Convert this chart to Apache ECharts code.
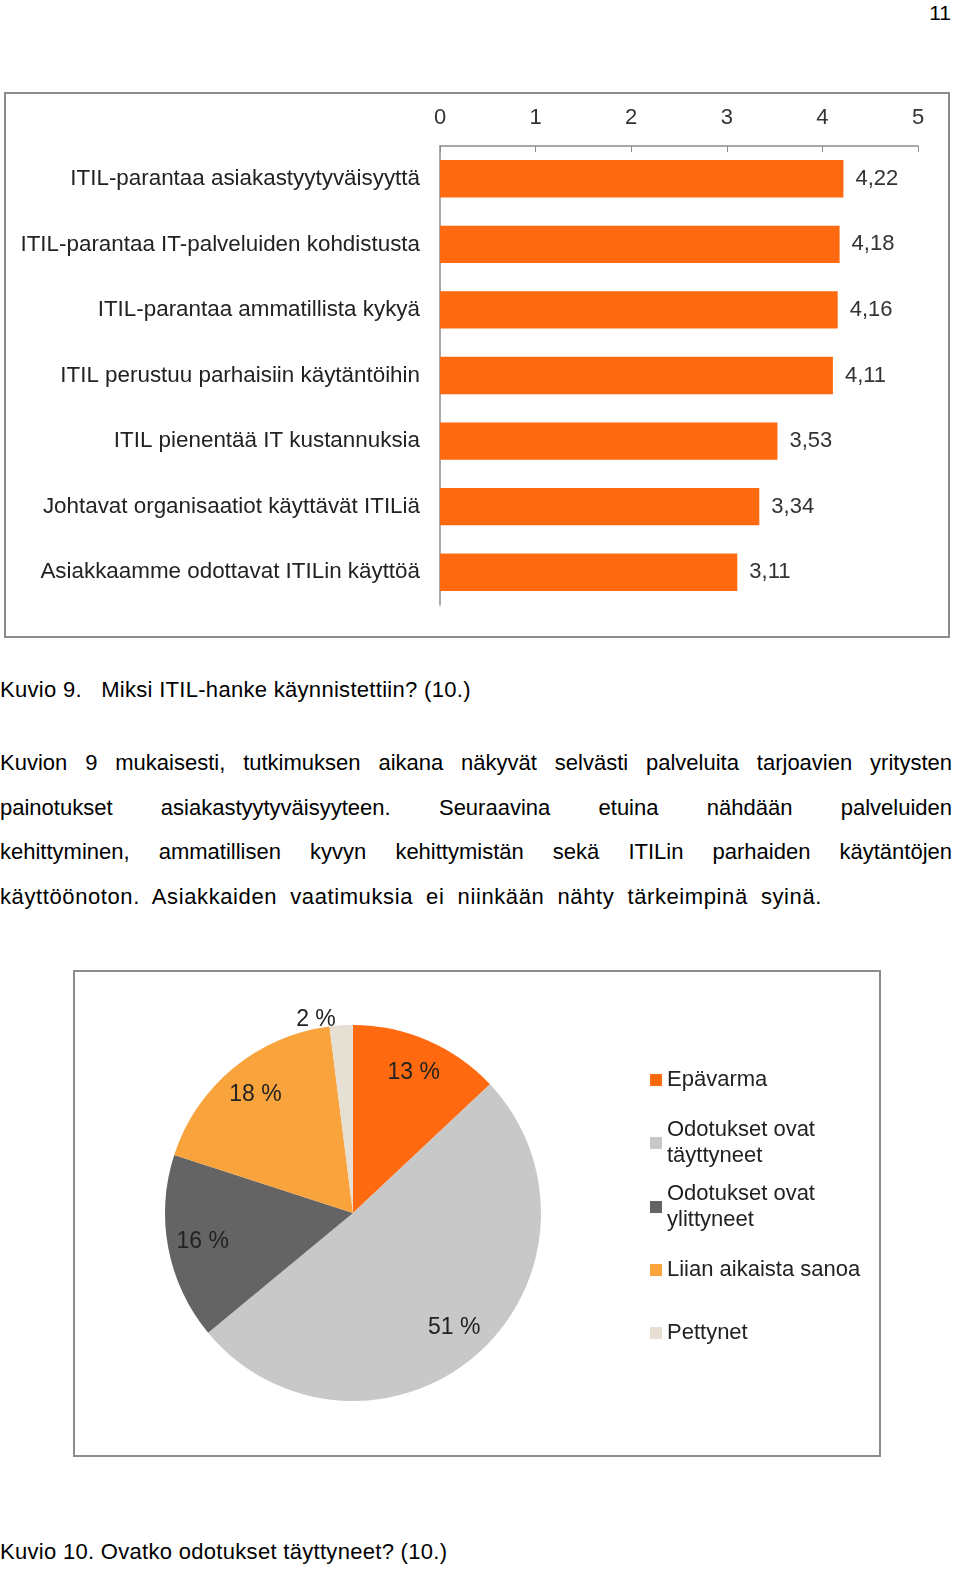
<!DOCTYPE html>
<html><head><meta charset="utf-8">
<script src="https://cdn.jsdelivr.net/npm/echarts@6/dist/echarts.min.js"></script>
<style>
html{margin:0;padding:0;width:960px;height:1581px;overflow:hidden;background:#fff;}
body{margin:0;padding:0;width:960px;height:1581px;position:relative;font-family:"Liberation Sans",Arial,sans-serif;color:#000;overflow:hidden;background:#fff;}
.box{position:absolute;box-sizing:border-box;border:2px solid #8c8c8c;background:#fff;}
.t{position:absolute;white-space:nowrap;line-height:26px;}
.para{position:absolute;left:0;width:952px;font-size:22px;overflow:hidden;}
.para div{height:44.7px;line-height:44.7px;text-align:justify;text-align-last:justify;white-space:nowrap;overflow:hidden;}
</style></head>
<body>
<div class="t" style="right:9px;top:0px;font-size:21px;">11</div>
<div id="c1" class="box" style="left:4px;top:92px;width:946px;height:546px;"></div>
<div class="t" style="left:0;top:677px;font-size:22px;letter-spacing:0.3px;">Kuvio 9.&nbsp;&nbsp; Miksi ITIL-hanke käynnistettiin? (10.)</div>
<div class="para" style="top:741px;">
<div>Kuvion 9 mukaisesti, tutkimuksen aikana näkyvät selvästi palveluita tarjoavien yritysten</div>
<div>painotukset asiakastyytyväisyyteen. Seuraavina etuina nähdään palveluiden</div>
<div>kehittyminen, ammatillisen kyvyn kehittymistän sekä ITILin parhaiden käytäntöjen</div>
<div style="width:822px;letter-spacing:0.6px;">käyttöönoton. Asiakkaiden vaatimuksia ei niinkään nähty tärkeimpinä syinä.</div>
</div>
<div id="c2" class="box" style="left:73px;top:970px;width:808px;height:487px;"></div>
<div class="t" style="left:0;top:1539px;font-size:22px;letter-spacing:0.3px;">Kuvio 10. Ovatko odotukset täyttyneet? (10.)</div>
<script>
const barCategories = [
  "ITIL-parantaa asiakastyytyväisyyttä",
  "ITIL-parantaa IT-palveluiden kohdistusta",
  "ITIL-parantaa ammatillista kykyä",
  "ITIL perustuu parhaisiin käytäntöihin",
  "ITIL pienentää IT kustannuksia",
  "Johtavat organisaatiot käyttävät ITILiä",
  "Asiakkaamme odottavat ITILin käyttöä"
];
const barValues = [4.22, 4.18, 4.16, 4.11, 3.53, 3.34, 3.11];
const xTicks = [0, 1, 2, 3, 4, 5];

const pieNames = ["Epävarma", "Odotukset ovat\ntäyttyneet", "Odotukset ovat\nylittyneet", "Liian aikaista sanoa", "Pettynet"];
const pieValues = [13, 51, 16, 18, 2];
const pieColors = ["#FF6A10", "#C8C8C8", "#646464", "#F9A33D", "#E6E0D4"];

const FONT = '"Liberation Sans", Arial, sans-serif';
const fmt = v => String(v).replace('.', ',');

const c1 = echarts.init(document.getElementById('c1'), null, {renderer:'canvas'});
c1.setOption({
  animation:false,
  textStyle:{fontFamily:FONT},
  grid:{left:434, top:52, width:478, height:459},
  xAxis:{type:'value', position:'top', min:xTicks[0], max:xTicks[xTicks.length-1], interval:1,
    axisLine:{show:true, lineStyle:{color:'#8c8c8c', width:1.5}},
    axisTick:{show:true, inside:true, length:6, lineStyle:{color:'#8c8c8c'}},
    splitLine:{show:false},
    axisLabel:{fontSize:22, color:'#333', margin:17, fontFamily:FONT}},
  yAxis:{type:'category', inverse:true, data:barCategories,
    axisLine:{show:true, lineStyle:{color:'#8c8c8c', width:1.5}},
    axisTick:{show:false},
    axisLabel:{fontSize:22.4, color:'#222', margin:20, fontFamily:FONT}},
  series:[{type:'bar', data:barValues, barWidth:'57%',
    itemStyle:{color:'#FF6A10'},
    label:{show:true, position:'right', distance:12, fontSize:22, color:'#333', fontFamily:FONT,
      formatter:p=>fmt(p.value)}}]
});

const c2 = echarts.init(document.getElementById('c2'), null, {renderer:'canvas'});
const pieData = pieNames.map((n,i)=>({name:n, value:pieValues[i], itemStyle:{color:pieColors[i]}}));
const legendTops = [90, 127, 191, 280, 343];
const legends = pieNames.map((n,i)=>({
  data:[n], orient:'vertical', left:570, top:legendTops[i], icon:'rect', itemWidth:12, itemHeight:12, itemGap:0,
  selectedMode:false,
  textStyle:{fontSize:22, color:'#222', lineHeight:26, fontFamily:FONT, padding: n.indexOf('\n')>=0 ? [26,0,0,0] : 0}
}));
c2.setOption({
  animation:false,
  textStyle:{fontFamily:FONT},
  legend:legends,
  series:[
    {type:'pie', center:[278,241], radius:[0,188], startAngle:90, clockwise:true,
      data:pieData.map((d,i)=>Object.assign({}, d, {label:{show: i===4}})),
      label:{position:'outside', fontSize:23, color:'#222', fontFamily:FONT, formatter:p=>p.value+' %'},
      labelLine:{show:false, length:6, length2:0},
      emphasis:{disabled:true}},
    {type:'pie', center:[278,241], radius:[0,300], startAngle:90, clockwise:true, silent:true,
      data:pieData.map((d,i)=>({name:d.name, value:d.value, itemStyle:{color:'rgba(0,0,0,0)'}, label:{show:i!==4}})),
      label:{position:'inside', fontSize:23, color:'#222', fontFamily:FONT, formatter:p=>p.value+' %'},
      labelLine:{show:false}, emphasis:{disabled:true}}
  ]
});
</script>
</body></html>
